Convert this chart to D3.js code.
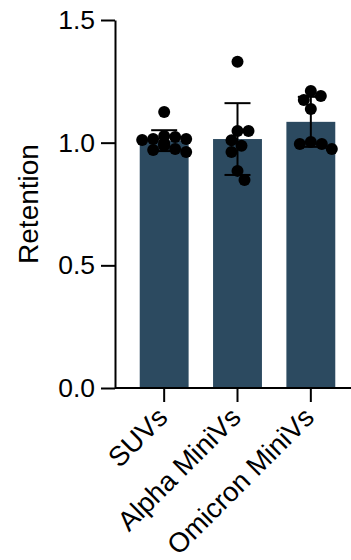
<!DOCTYPE html>
<html>
<head>
<meta charset="utf-8">
<script src="https://cdn.jsdelivr.net/npm/d3@7"></script>
<style>
  body { margin: 0; background: #fff; }
  text { font-family: "Liberation Sans", Arial, Helvetica, sans-serif; }
</style>
</head>
<body>
<div id="chart"></div>
<script>
let categories = ["SUVs", "Alpha MiniVs", "Omicron MiniVs"];
let suvs = [1.125, 1.027, 1.023, 1.015, 1.015, 1.011, 0.999, 0.991, 0.987, 0.974, 0.970, 0.962];
let alpha = [1.33, 1.048, 1.048, 1.01, 0.987, 0.962, 0.885, 0.848];
let omicron = [1.211, 1.19, 1.174, 1.137, 1.003, 0.995, 0.995, 0.974];
let yTicks = [0, 0.5, 1.0, 1.5];

let width = 351;
let height = 560;
let margin = ({ top: 20, right: 0, bottom: 172, left: 115 });
let barColor = "#2c4a60";
let radius = 6;

let groups = [suvs, alpha, omicron];

let y = d3.scaleLinear()
    .domain([0, 1.5])
    .range([height - margin.bottom, margin.top]);
let x = d3.scaleBand()
    .domain(categories)
    .range([127.5, 347.5])
    .paddingInner(1 / 3)
    .paddingOuter(1 / 6);

const svg = d3.select("#chart").append("svg")
    .attr("width", width)
    .attr("height", height);

// bars (mean)
let stats = categories.map((c, i) => ({
    name: c,
    mean: d3.mean(groups[i]),
    sd: d3.deviation(groups[i]),
    values: groups[i]
}));

svg.append("g")
    .selectAll("rect")
    .data(stats)
    .join("rect")
    .attr("x", d => x(d.name))
    .attr("y", d => y(d.mean))
    .attr("width", x.bandwidth())
    .attr("height", d => y(0) - y(d.mean))
    .attr("fill", barColor);

// error bars (mean +/- SD)
let capW = 13;
let eb = svg.append("g").attr("stroke", "#000").attr("stroke-width", 2);
stats.forEach(d => {
    let cx = x(d.name) + x.bandwidth() / 2;
    eb.append("line")
        .attr("x1", cx).attr("x2", cx)
        .attr("y1", y(d.mean - d.sd)).attr("y2", y(d.mean + d.sd));
    eb.append("line")
        .attr("x1", cx - capW).attr("x2", cx + capW)
        .attr("y1", y(d.mean + d.sd)).attr("y2", y(d.mean + d.sd));
    eb.append("line")
        .attr("x1", cx - capW).attr("x2", cx + capW)
        .attr("y1", y(d.mean - d.sd)).attr("y2", y(d.mean - d.sd));
});

// simple beeswarm for the points (slight overlap allowed, like the original)
function swarm(values, cx) {
    let placed = [];
    let sorted = values.slice().sort((a, b) => b - a);
    let diam = radius * 2 - 1;
    sorted.forEach(v => {
        let py = y(v);
        let best = null;
        for (let k = 0; k < 60; k++) {
            let off = Math.ceil(k / 2) * (k % 2 ? 1 : -1);
            let px = cx + off;
            let ok = placed.every(p => Math.hypot(p.x - px, p.y - py) >= diam);
            if (ok) { best = px; break; }
        }
        if (best === null) best = cx;
        placed.push({ x: best, y: py });
    });
    return placed;
}

let dots = svg.append("g").attr("fill", "#000");
stats.forEach(d => {
    let cx = x(d.name) + x.bandwidth() / 2;
    swarm(d.values, cx).forEach(p => {
        dots.append("circle")
            .attr("cx", p.x)
            .attr("cy", p.y)
            .attr("r", radius);
    });
});

// y axis
svg.append("g")
    .attr("transform", `translate(${margin.left},0)`)
    .call(d3.axisLeft(y).tickValues(yTicks).tickFormat(d3.format(".1f")).tickSize(14).tickPadding(6).tickSizeOuter(0))
    .call(g => g.select(".domain").attr("stroke-width", 2))
    .call(g => g.selectAll(".tick line").attr("stroke-width", 2))
    .call(g => g.selectAll(".tick text")
        .attr("font-size", 26.5)
        .attr("fill", "#000")
        .attr("font-family", "Liberation Sans, Arial, sans-serif"));

// x axis
svg.append("g")
    .attr("transform", `translate(0,${y(0)})`)
    .call(d3.axisBottom(x).tickSize(14).tickSizeOuter(0))
    .call(g => g.select(".domain").remove())
    .call(g => g.append("line")
        .attr("x1", margin.left).attr("x2", width)
        .attr("stroke", "#000").attr("stroke-width", 2))
    .call(g => g.selectAll(".tick line").attr("stroke-width", 2))
    .call(g => g.selectAll(".tick text")
        .attr("font-size", 27.5)
        .attr("fill", "#000")
        .attr("font-family", "Liberation Sans, Arial, sans-serif")
        .attr("text-anchor", "end")
        .attr("dy", null)
        .attr("y", 0)
        .attr("transform", "translate(5,31) rotate(-45)"));

// y title
svg.append("text")
    .attr("transform", "translate(38,204) rotate(-90)")
    .attr("text-anchor", "middle")
    .attr("font-size", 28)
    .attr("fill", "#000")
    .text("Retention");
</script>
</body>
</html>
